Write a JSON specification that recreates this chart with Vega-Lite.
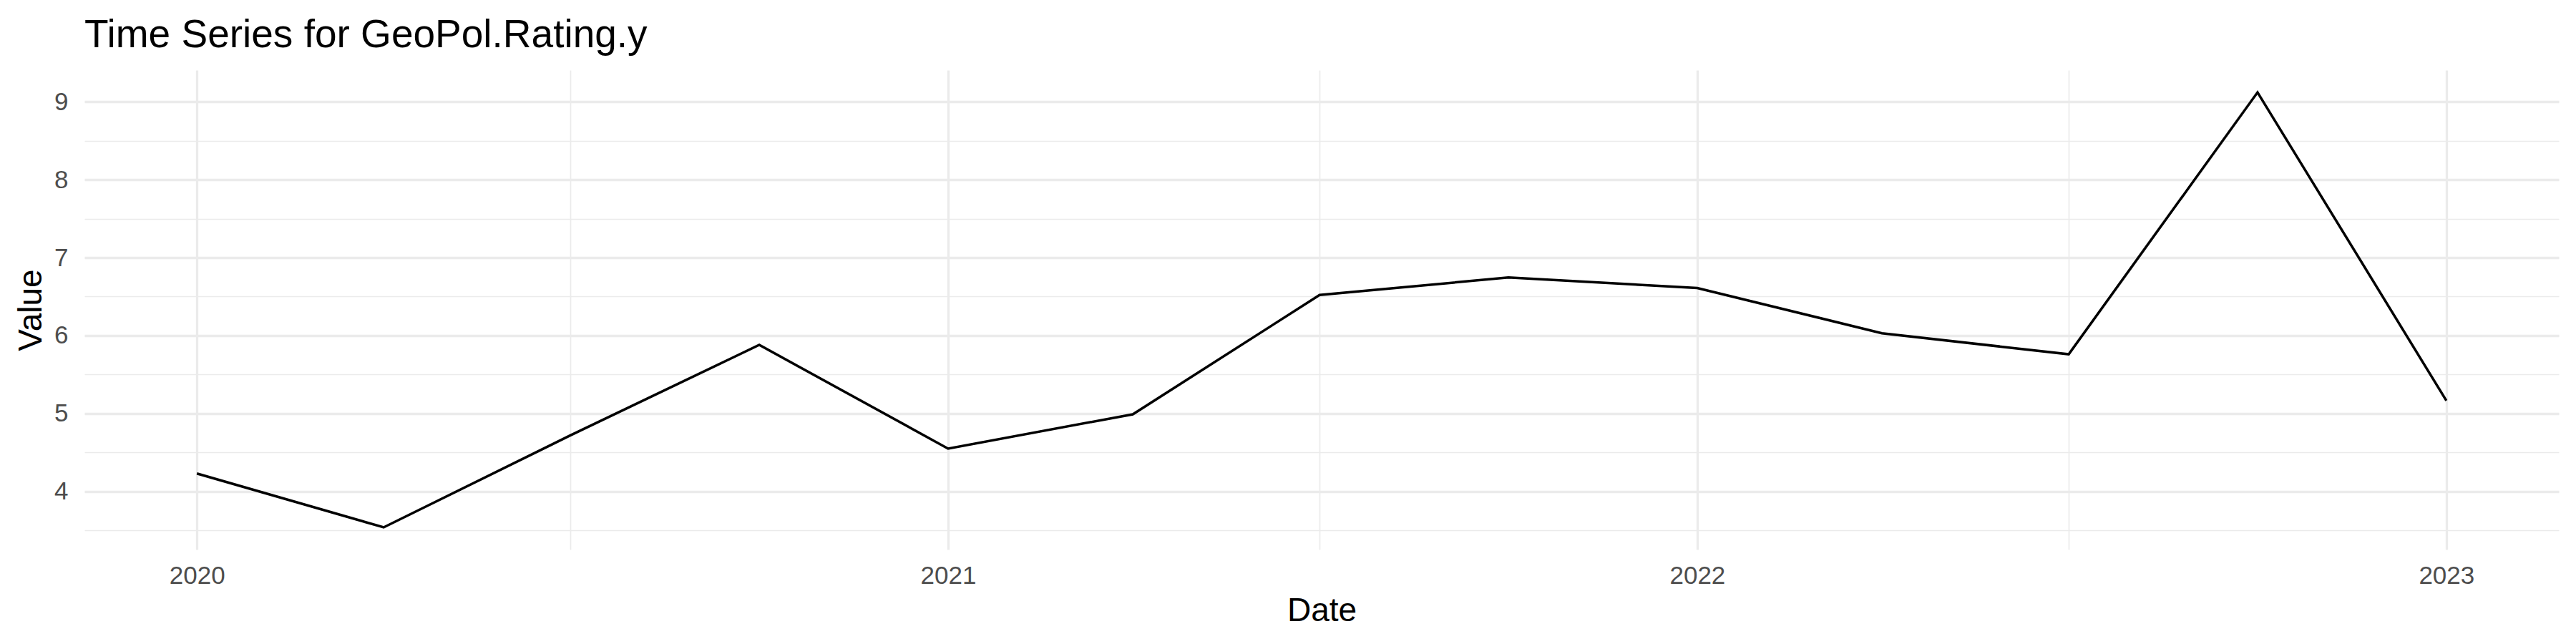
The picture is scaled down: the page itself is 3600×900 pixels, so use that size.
{
  "$schema": "https://vega.github.io/schema/vega-lite/v6.json",
  "autosize": "none",
  "width": 3458,
  "height": 670,
  "padding": {"left": 118, "top": 98, "right": 24, "bottom": 132},
  "background": "white",
  "title": {
    "text": "Time Series for GeoPol.Rating.y",
    "anchor": "start",
    "frame": "group",
    "baseline": "alphabetic",
    "offset": -23,
    "font": "Liberation Sans",
    "fontSize": 55,
    "fontWeight": "normal",
    "color": "#000000"
  },
  "config": {"view": {"stroke": null}},
  "data": {
    "values": [
      {"date": "2020-01-01", "value": 4.23},
      {"date": "2020-04-01", "value": 3.54},
      {"date": "2020-07-01", "value": 4.72},
      {"date": "2020-10-01", "value": 5.88},
      {"date": "2021-01-01", "value": 4.55},
      {"date": "2021-04-01", "value": 4.99},
      {"date": "2021-07-01", "value": 6.52},
      {"date": "2021-10-01", "value": 6.745},
      {"date": "2022-01-01", "value": 6.61},
      {"date": "2022-04-01", "value": 6.03},
      {"date": "2022-07-01", "value": 5.76},
      {"date": "2022-10-01", "value": 9.12},
      {"date": "2023-01-01", "value": 5.165}
    ]
  },
  "mark": {"type": "line", "color": "#000000", "strokeWidth": 3.5},
  "encoding": {
    "x": {
      "field": "date",
      "type": "temporal",
      "scale": {
        "type": "utc",
        "nice": false,
        "domain": [
          {"year": 2019, "month": 11, "date": 7, "hours": 4, "minutes": 48, "utc": true},
          {"year": 2023, "month": 2, "date": 24, "hours": 19, "minutes": 12, "utc": true}
        ]
      },
      "axis": {
        "values": [
          {"year": 2020, "month": 1, "date": 1, "utc": true},
          {"year": 2020, "month": 7, "date": 1, "utc": true},
          {"year": 2021, "month": 1, "date": 1, "utc": true},
          {"year": 2021, "month": 7, "date": 1, "utc": true},
          {"year": 2022, "month": 1, "date": 1, "utc": true},
          {"year": 2022, "month": 7, "date": 1, "utc": true},
          {"year": 2023, "month": 1, "date": 1, "utc": true}
        ],
        "labelExpr": "utcmonth(datum.value) === 0 ? utcFormat(datum.value, '%Y') : ''",
        "grid": true,
        "gridColor": "#EBEBEB",
        "gridWidth": {"condition": {"test": "utcmonth(datum.value) !== 0", "value": 1.7}, "value": 3.3},
        "ticks": false,
        "domain": false,
        "labelFlush": false,
        "labelOverlap": false,
        "labelFont": "Liberation Sans",
        "labelFontSize": 35,
        "labelColor": "#4D4D4D",
        "labelAlign": "center",
        "labelBaseline": "alphabetic",
        "labelPadding": 47,
        "title": "Date",
        "titleFont": "Liberation Sans",
        "titleFontSize": 46,
        "titleFontWeight": "normal",
        "titleColor": "#000000",
        "titleX": 1729,
        "titleY": 99,
        "titleAlign": "center",
        "titleBaseline": "alphabetic"
      }
    },
    "y": {
      "field": "value",
      "type": "quantitative",
      "scale": {"domain": [3.255, 9.405], "nice": false, "zero": false},
      "axis": {
        "values": [3.5, 4, 4.5, 5, 5.5, 6, 6.5, 7, 7.5, 8, 8.5, 9],
        "labelExpr": "datum.value % 1 === 0 ? format(datum.value, 'd') : ''",
        "grid": true,
        "gridColor": "#EBEBEB",
        "gridWidth": {"condition": {"test": "datum.value % 1 !== 0", "value": 1.7}, "value": 3.3},
        "ticks": false,
        "domain": false,
        "labelOverlap": false,
        "labelFlush": false,
        "labelFont": "Liberation Sans",
        "labelFontSize": 35,
        "labelColor": "#4D4D4D",
        "labelPadding": 23,
        "title": "Value",
        "titleFont": "Liberation Sans",
        "titleFontSize": 46,
        "titleFontWeight": "normal",
        "titleColor": "#000000",
        "titleAngle": 270,
        "titleX": -61,
        "titleY": 335,
        "titleAlign": "center",
        "titleBaseline": "alphabetic"
      }
    }
  }
}
